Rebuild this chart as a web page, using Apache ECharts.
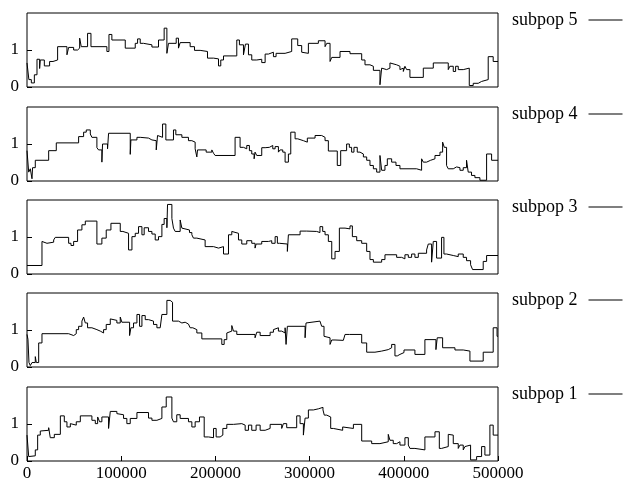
<!DOCTYPE html>
<html><head><meta charset="utf-8">
<script src="https://cdn.jsdelivr.net/npm/echarts@6/dist/echarts.min.js"></script>
<style>html,body{margin:0;padding:0;background:#fff}#c{width:623px;height:483px}</style>
</head><body><div id="c"></div>
<script>
const seriesNames = ['subpop 5', 'subpop 4', 'subpop 3', 'subpop 2', 'subpop 1'];

const subpop5 = [[0,0.65],[2000,0.2],[4600,0.11],[7800,0.33],[10600,0.75],[13400,0.5],[14100,0.73],[18400,0.57],[24000,0.69],[27600,0.73],[32500,1.09],[42400,0.87],[44200,1.07],[49500,1.0],[53700,1.05],[55900,1.32],[57600,1.09],[64300,1.45],[67900,1.09],[84800,0.96],[87000,1.42],[90100,1.27],[104300,1.05],[114900,1.18],[117400,1.3],[120200,1.18],[123700,1.14],[132600,1.08],[139600,1.27],[145600,1.59],[148500,0.91],[150200,1.18],[158400,1.32],[160800,1.05],[162600,1.2],[173200,1.09],[177800,0.99],[183800,0.96],[191600,0.78],[198000,0.76],[203300,0.57],[205700,0.73],[208600,0.84],[222700,1.27],[225500,1.14],[229800,0.87],[231900,1.16],[235100,0.87],[238600,0.73],[243900,0.75],[249200,0.66],[252800,0.89],[256300,0.94],[261600,0.82],[264400,0.91],[274000,0.96],[281000,1.3],[287400,1.12],[291600,0.94],[293400,0.91],[298700,1.18],[309300,1.25],[316400,1.09],[318200,1.18],[321700,0.69],[323500,0.8],[332300,0.96],[342900,0.9],[355300,0.73],[358800,0.6],[364100,0.56],[367700,0.45],[374700,0.06],[376500,0.51],[378200,0.47],[381800,0.51],[385300,0.65],[387100,0.6],[392400,0.56],[395900,0.47],[397700,0.51],[399500,0.42],[401200,0.56],[403000,0.47],[406500,0.26],[420700,0.51],[431300,0.65],[447200,0.47],[448900,0.56],[452500,0.42],[455000,0.56],[457800,0.47],[463100,0.51],[469500,0.04],[473700,0.1],[479000,0.15],[482600,0.2],[489600,0.82],[494900,0.69],[500000,0.69]];

const subpop4 = [[0,0.82],[1800,0.24],[3500,0.33],[5300,0.06],[5900,0.36],[8800,0.56],[23000,0.82],[31100,1.03],[54800,1.2],[60100,1.32],[62900,1.38],[67200,1.27],[68900,1.18],[74200,0.9],[76000,0.84],[79500,0.51],[80200,1.0],[85500,0.87],[86600,1.29],[109600,0.72],[110300,1.11],[116700,1.18],[120200,1.16],[129000,1.11],[132600,1.09],[137200,0.84],[138600,1.23],[140300,1.18],[143900,1.54],[147400,1.11],[155500,1.38],[158000,1.25],[164400,1.18],[171400,1.09],[175000,1.05],[178500,0.87],[180300,0.65],[181000,0.84],[190200,0.78],[196200,0.84],[198000,0.75],[199700,0.69],[220900,1.18],[226200,0.91],[229800,0.87],[233300,0.96],[236100,0.82],[238600,0.73],[241100,0.6],[242100,0.78],[243900,0.69],[249200,0.9],[252800,0.91],[257300,0.96],[260900,0.87],[263400,0.93],[266900,0.78],[268700,0.84],[271500,0.78],[274000,0.51],[277500,0.73],[280000,1.32],[284600,1.14],[287400,1.09],[293400,1.05],[297600,1.16],[305800,1.23],[312800,1.18],[316400,1.09],[319900,0.81],[329400,0.42],[333000,0.82],[339300,1.0],[342200,0.91],[344600,0.78],[347100,0.91],[350600,0.78],[353500,0.73],[357100,0.65],[360600,0.56],[364100,0.42],[367700,0.33],[371200,0.24],[374700,0.69],[376500,0.29],[380000,0.42],[382500,0.6],[387100,0.51],[391700,0.42],[395900,0.33],[413600,0.29],[418900,0.6],[420700,0.51],[424200,0.56],[428500,0.6],[433100,0.69],[438400,0.78],[441200,1.05],[443000,0.91],[445400,0.42],[447200,0.33],[452500,0.38],[456000,0.36],[459600,0.29],[463100,0.36],[466600,0.56],[468400,0.24],[471900,0.15],[475500,0.09],[480800,0.02],[487900,0.73],[493200,0.56],[500000,0.56]];

const subpop3 = [[0,0.23],[15900,0.88],[17700,0.83],[21200,0.88],[23000,0.86],[28300,0.92],[30000,0.99],[44200,0.83],[46700,0.77],[49500,0.88],[53700,1.19],[58300,1.33],[61900,1.43],[74200,0.81],[79500,0.97],[84100,1.19],[89100,1.37],[99000,1.15],[101800,1.1],[107800,0.65],[111400,1.01],[114900,1.1],[118400,1.28],[122000,1.06],[124400,1.25],[129000,1.15],[132600,1.08],[136100,0.92],[139600,1.01],[143200,1.34],[145600,1.5],[148500,1.25],[149200,1.88],[153800,1.5],[155500,1.24],[157300,1.15],[162600,1.46],[164400,1.24],[166100,1.19],[172500,1.12],[175000,1.06],[176700,0.97],[180300,0.92],[189100,0.74],[198000,0.7],[203300,0.74],[208600,0.54],[213900,1.06],[217400,1.15],[219200,1.1],[224500,0.92],[228000,0.81],[233300,0.9],[238600,0.83],[242100,0.7],[243200,0.81],[249200,0.88],[256300,0.9],[259800,0.83],[263400,1.01],[265800,0.83],[268000,0.81],[276400,0.61],[277500,1.06],[289900,1.16],[296900,1.15],[307500,1.12],[311000,1.28],[313900,1.15],[316400,1.06],[319900,0.88],[323500,0.41],[327000,0.61],[331600,1.24],[337600,1.22],[342900,1.3],[345400,1.01],[350000,0.9],[355300,0.83],[360600,0.61],[364100,0.39],[367700,0.32],[376500,0.39],[380000,0.52],[392400,0.45],[397700,0.41],[401200,0.52],[404800,0.45],[408300,0.54],[411800,0.45],[415400,0.56],[424200,0.65],[426000,0.81],[429500,0.32],[431300,0.88],[434800,0.43],[440100,0.99],[442600,0.54],[445400,0.5],[452500,0.47],[457800,0.54],[463100,0.45],[466600,0.36],[470900,0.25],[473000,0.12],[484300,0.34],[487900,0.5],[500000,0.5]];

const subpop2 = [[0,0.88],[1000,0.75],[2100,0.12],[3500,0.04],[5300,0.12],[8800,0.28],[9900,0.12],[12400,0.65],[15900,0.9],[44200,0.85],[49500,0.9],[52300,1.01],[54800,1.1],[58300,1.24],[60100,1.35],[61900,1.19],[64300,1.06],[68900,1.01],[74200,0.97],[77800,0.92],[81300,1.01],[84100,1.15],[88400,1.3],[90100,1.26],[95400,1.19],[99000,1.35],[100700,1.21],[108900,0.85],[110300,1.06],[113100,1.19],[116700,1.42],[119500,1.1],[122000,1.39],[125500,1.28],[129000,1.24],[134300,1.15],[137900,1.06],[141400,1.1],[143200,1.42],[148500,1.8],[152000,1.75],[154500,1.24],[160800,1.19],[164400,1.21],[167900,1.16],[171400,1.15],[173200,1.06],[176000,1.01],[180300,0.92],[185600,0.76],[206800,0.61],[209300,0.74],[212100,0.92],[213900,0.97],[217400,1.12],[219200,0.97],[222700,0.88],[242100,0.79],[243900,0.94],[247500,0.85],[258100,0.94],[261600,1.01],[263400,1.06],[266900,0.97],[270400,0.92],[274000,1.06],[275000,0.61],[276400,1.1],[295200,0.79],[296200,1.19],[297600,1.24],[311000,1.19],[312800,1.1],[315300,0.83],[317400,0.79],[321700,0.61],[323500,0.73],[327000,0.72],[335800,0.76],[337600,0.88],[342200,0.92],[343600,0.88],[355300,0.65],[360600,0.4],[369400,0.43],[376500,0.47],[383500,0.52],[387100,0.61],[390600,0.3],[393100,0.34],[395900,0.39],[400200,0.46],[411800,0.34],[422400,0.74],[434100,0.47],[435500,0.79],[441200,0.52],[454300,0.46],[463100,0.43],[470200,0.16],[484300,0.4],[494900,1.06],[499000,0.83],[500000,0.83]];

const subpop1 = [[0,0.7],[1800,0.12],[2800,0.14],[8800,0.3],[11300,0.7],[14100,0.81],[15900,0.83],[23000,0.9],[24700,0.63],[29000,0.72],[35400,1.22],[39600,1.06],[42400,0.92],[46000,1.01],[47700,0.97],[52300,1.06],[56600,1.22],[68900,1.1],[72500,1.01],[75000,1.19],[77100,1.06],[79500,1.19],[86600,0.88],[88400,1.34],[95400,1.28],[97200,1.25],[102500,1.15],[106000,1.01],[109600,1.15],[116700,1.31],[129000,1.16],[132600,1.1],[137900,1.15],[143200,1.46],[147800,1.73],[153800,1.16],[155500,1.06],[159000,1.25],[162600,1.15],[171400,1.06],[175000,0.92],[178500,1.06],[183100,1.19],[188100,0.65],[192700,0.63],[198000,0.88],[200800,0.65],[205000,0.7],[207900,0.88],[212100,0.99],[219200,1.01],[228000,0.97],[231600,0.83],[235100,0.97],[238600,0.83],[243200,0.97],[247500,0.83],[252800,0.88],[258100,0.99],[270400,0.88],[272200,1.01],[275700,0.9],[286300,1.22],[289900,1.01],[293400,0.7],[295200,1.16],[298700,1.38],[304000,1.41],[309300,1.45],[314200,1.38],[315600,1.24],[318200,1.19],[322400,0.88],[325200,0.83],[335100,0.92],[336600,0.88],[346500,0.99],[355300,0.54],[365900,0.47],[374700,0.52],[383500,0.72],[385300,0.56],[388800,0.47],[392400,0.52],[395900,0.43],[401200,0.63],[404800,0.43],[406500,0.34],[411800,0.3],[422400,0.65],[433100,0.79],[437700,0.34],[440100,0.39],[447200,0.72],[448900,0.7],[452500,0.47],[457800,0.34],[459600,0.43],[463100,0.3],[464900,0.39],[466600,0.43],[470900,0.03],[477300,0.12],[482600,0.39],[486100,0.16],[491400,0.97],[494900,0.7],[500000,0.7]];

const panelData = [subpop5, subpop4, subpop3, subpop2, subpop1];
const xMin = 0, xMax = 500000, xStep = 100000;
const yMin = 0, yMax = 2, yStep = 1;

// layout (pixels)
const panelTops = [13, 107, 200, 293, 387];
const panelHeight = 74;
const FONT = "'Liberation Serif', 'Times New Roman', serif";

const chart = echarts.init(document.getElementById('c'), null, {renderer: 'canvas'});
const last = panelData.length - 1;

const option = {
  animation: false,
  backgroundColor: '#fff',
  grid: panelTops.map(t => ({
    left: 27, width: 471, top: t, height: panelHeight,
    show: true, borderColor: '#000', borderWidth: 1, backgroundColor: 'transparent'
  })),
  xAxis: panelTops.map((t, i) => ({
    gridIndex: i, type: 'value', min: xMin, max: xMax, interval: xStep,
    axisLine: {show: false}, splitLine: {show: false},
    axisTick: {show: i === last, inside: true, length: 5, lineStyle: {color: '#000', width: 1}},
    axisLabel: {show: i === last, color: '#000', fontFamily: FONT, fontSize: 17, margin: 4,
      formatter: v => String(v)}
  })),
  yAxis: panelTops.map((t, i) => ({
    gridIndex: i, type: 'value', min: yMin, max: yMax, interval: yStep,
    axisLine: {show: false}, splitLine: {show: false},
    axisTick: {show: true, inside: true, length: 5, lineStyle: {color: '#000', width: 1}},
    axisLabel: {color: '#000', fontFamily: FONT, fontSize: 17, margin: 8, showMaxLabel: false}
  })),
  legend: seriesNames.map((n, i) => ({
    data: [n], left: 512, top: panelTops[i] - 2, padding: 0, orient: 'horizontal', align: 'right',
    icon: 'rect', itemWidth: 34, itemHeight: 1, selectedMode: false,
    textStyle: {color: '#000', fontFamily: FONT, fontSize: 18, padding: [0, 6, 0, 0]}
  })),
  series: seriesNames.map((n, i) => ({
    type: 'line', name: n, xAxisIndex: i, yAxisIndex: i,
    data: panelData[i], step: 'end', symbol: 'none', showSymbol: false,
    lineStyle: {color: '#000', width: 1}, itemStyle: {color: '#000'}
  }))
};
chart.setOption(option);
</script></body></html>
